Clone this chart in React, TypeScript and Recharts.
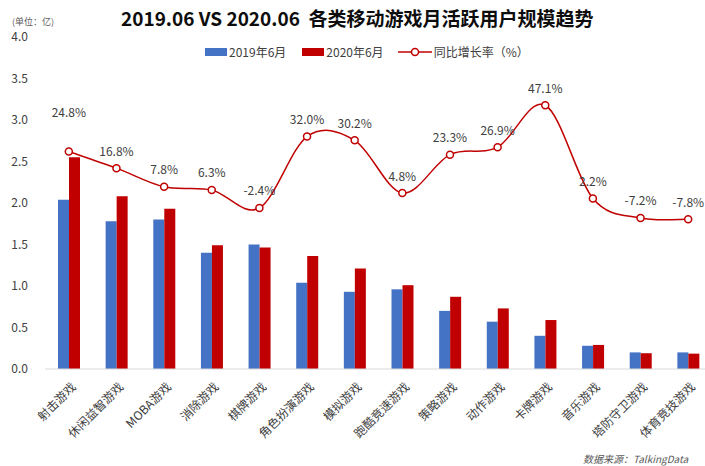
import React from "react";
import {
  ComposedChart,
  Bar,
  Line,
  XAxis,
  YAxis,
  Legend,
  LabelList,
} from "recharts";

const categories = [
  "射击游戏",
  "休闲益智游戏",
  "MOBA游戏",
  "消除游戏",
  "棋牌游戏",
  "角色扮演游戏",
  "模拟游戏",
  "跑酷竞速游戏",
  "策略游戏",
  "动作游戏",
  "卡牌游戏",
  "音乐游戏",
  "塔防守卫游戏",
  "体育竞技游戏",
];
const mau2019 = [2.04, 1.78, 1.8, 1.4, 1.5, 1.04, 0.93, 0.96, 0.7, 0.57, 0.4, 0.28, 0.2, 0.2];
const mau2020 = [2.55, 2.08, 1.93, 1.49, 1.465, 1.36, 1.21, 1.01, 0.87, 0.73, 0.59, 0.29, 0.19, 0.185];
const growth = [24.8, 16.8, 7.8, 6.3, -2.4, 32.0, 30.2, 4.8, 23.3, 26.9, 47.1, 2.2, -7.2, -7.8];
const yTicks = [0, 0.5, 1, 1.5, 2, 2.5, 3, 3.5, 4];

const data = categories.map((name, i) => ({
  name,
  y2019: mau2019[i],
  y2020: mau2020[i],
  rate: growth[i],
}));

const BLUE = "#4472C4";
const RED = "#C00000";
const FONT = '"Noto Sans CJK SC", "Noto Sans", sans-serif';

// excel-ish smoothed line (catmull-rom as bezier)
const smoothCurve = (ctx: any) => {
  let pts: number[][] = [];
  return {
    areaStart() {},
    areaEnd() {},
    lineStart() {
      pts = [];
    },
    lineEnd() {
      if (!pts.length) return;
      ctx.moveTo(pts[0][0], pts[0][1]);
      for (let i = 0; i < pts.length - 1; i++) {
        const p0 = pts[i - 1] || pts[i];
        const p1 = pts[i];
        const p2 = pts[i + 1];
        const p3 = pts[i + 2] || p2;
        ctx.bezierCurveTo(
          p1[0] + (p2[0] - p0[0]) / 6,
          p1[1] + (p2[1] - p0[1]) / 6,
          p2[0] - (p3[0] - p1[0]) / 6,
          p2[1] - (p3[1] - p1[1]) / 6,
          p2[0],
          p2[1]
        );
      }
    },
    point(x: number, y: number) {
      pts.push([+x, +y]);
    },
  };
};

const XTick = (props: any) => {
  const { x, y, payload } = props;
  return (
    <g transform={`translate(${x + 5},${y + 8})`}>
      <text
        x={0}
        y={0}
        dy={4}
        textAnchor="end"
        transform="rotate(-45)"
        fontSize={12}
        fill="#404040"
        fontFamily={FONT}
      >
        {payload.value}
      </text>
    </g>
  );
};

const RateLabel = (props: any) => {
  const { x, y, value, index } = props;
  const dy = index === 0 ? -40 : -18;
  return (
    <text
      x={x}
      y={y + dy}
      textAnchor="middle"
      dominantBaseline="central"
      fontSize={12}
      fill="#404040"
      fontFamily={FONT}
    >
      {value.toFixed(1)}%
    </text>
  );
};

const LegendBox = () => (
  <div
    style={{
      display: "flex",
      alignItems: "center",
      fontSize: 12,
      color: "#404040",
      fontFamily: FONT,
      whiteSpace: "nowrap",
    }}
  >
    <span style={{ width: 22, height: 8, background: BLUE, marginRight: 2 }} />
    <span style={{ marginRight: 16 }}>2019年6月</span>
    <span style={{ width: 22, height: 8, background: RED, marginRight: 2 }} />
    <span style={{ marginRight: 14 }}>2020年6月</span>
    <svg width={34} height={10} style={{ marginRight: 2 }}>
      <line x1={0} y1={5} x2={34} y2={5} stroke={RED} strokeWidth={1.5} />
      <circle cx={17} cy={5} r={3.5} fill="#fff" stroke={RED} strokeWidth={1.5} />
    </svg>
    <span>同比增长率（%）</span>
  </div>
);

export default function App() {
  return (
    <div
      style={{
        position: "fixed",
        left: 0,
        top: 0,
        width: 705,
        height: 466,
        overflow: "hidden",
        background: "#fff",
        fontFamily: FONT,
      }}
    >
      <div
        style={{
          position: "absolute",
          left: 12,
          top: 17,
          fontSize: 9,
          lineHeight: "10px",
          color: "#595959",
        }}
      >
        (单位：亿)
      </div>
      <div
        style={{
          position: "absolute",
          left: 121,
          top: 4,
          fontSize: 19,
          fontWeight: "bold",
          color: "#0d0d0d",
          whiteSpace: "nowrap",
        }}
      >
        2019.06 VS 2020.06&nbsp;&nbsp;各类移动游戏月活跃用户规模趋势
      </div>
      <ComposedChart
        width={712}
        height={466}
        data={data}
        margin={{ top: 37, right: 0, bottom: 36, left: 0 }}
        barGap={0}
        barSize={11}
      >
        <XAxis
          dataKey="name"
          interval={0}
          tick={<XTick />}
          tickLine={false}
          axisLine={{ stroke: "#D9D9D9" }}
          height={61}
        />
        <YAxis
          yAxisId="left"
          domain={[0, 4]}
          ticks={yTicks}
          width={45}
          tickLine={false}
          axisLine={false}
          tickSize={0}
          tickMargin={17}
          tickFormatter={(v) => v.toFixed(1)}
          tick={{ fontSize: 12, fill: "#404040", fontFamily: FONT }}
        />
        <YAxis yAxisId="right" orientation="right" domain={[-80, 80]} hide />
        <Legend
          verticalAlign="middle"
          align="center"
          content={<LegendBox />}
          wrapperStyle={{ top: 43, left: 205, width: "auto" }}
        />
        <Bar yAxisId="left" dataKey="y2019" fill={BLUE} isAnimationActive={false} />
        <Bar yAxisId="left" dataKey="y2020" fill={RED} isAnimationActive={false} />
        <Line
          yAxisId="right"
          dataKey="rate"
          type={smoothCurve as any}
          stroke={RED}
          strokeWidth={1.5}
          dot={{ r: 3.5, fill: "#fff", stroke: RED, strokeWidth: 1.5 }}
          activeDot={false}
          isAnimationActive={false}
        >
          <LabelList dataKey="rate" content={<RateLabel />} />
        </Line>
      </ComposedChart>
      <div
        style={{
          position: "absolute",
          left: 583,
          top: 451,
          fontSize: 10,
          fontStyle: "italic",
          color: "#595959",
          whiteSpace: "nowrap",
        }}
      >
        数据来源：TalkingData
      </div>
    </div>
  );
}
